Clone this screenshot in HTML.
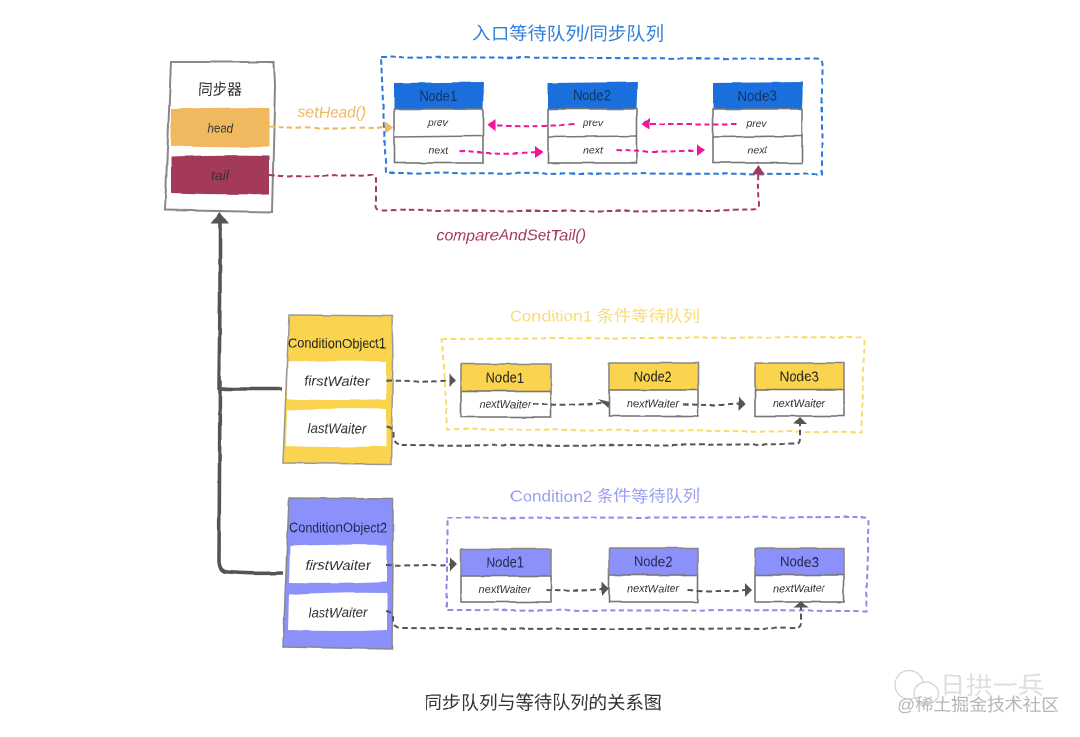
<!DOCTYPE html>
<html><head><meta charset="utf-8"><style>
html,body{margin:0;padding:0;background:#fff}
svg{display:block}
text{font-family:"Liberation Sans","WenQuanYi Zen Hei","Noto Sans CJK SC",sans-serif;text-anchor:middle;dominant-baseline:central;fill:#333}
.t{font-style:italic}
.b{fill:none;stroke:#777;stroke-width:1.6}
.d{fill:none;stroke-width:2;stroke-dasharray:5.500 3.500}
</style></head><body>
<svg width="1080" height="737" viewBox="0 0 1080 737" xmlns="http://www.w3.org/2000/svg">
<defs>
<filter id="sk" filterUnits="userSpaceOnUse" x="0" y="0" width="1080" height="737" color-interpolation-filters="sRGB">
<feTurbulence type="fractalNoise" baseFrequency="0.035" numOctaves="2" seed="4" result="n"/>
<feDisplacementMap in="SourceGraphic" in2="n" scale="2.500" xChannelSelector="R" yChannelSelector="G" result="w"/>
<feGaussianBlur in="w" stdDeviation="0.350"/>
</filter>
</defs>
<rect width="1080" height="737" fill="#fff"/>
<g filter="url(#sk)">

<!-- Synchronizer -->
<path d="M171 62L274 62L275 85L272 212L165 210Z" fill="#fff" stroke="#888" stroke-width="2"/>
<text x="220" y="90" font-size="15" textLength="43" lengthAdjust="spacingAndGlyphs">同步器</text>
<path d="M171 109Q220 107 269 108L269 147Q220 148 171 146Z" fill="#F0B95F"/>
<path d="M171 157Q220 155 269 156L269 194Q220 195 171 193Z" fill="#A33A58"/>
<text x="220" y="128" font-size="13" class="t" textLength="26" lengthAdjust="spacingAndGlyphs">head</text>
<text x="220" y="175" font-size="13" class="t" textLength="18" lengthAdjust="spacingAndGlyphs">tail</text>

<!-- Entry queue -->
<text x="568" y="34" font-size="18" style="fill:#2F7FD8" textLength="192" lengthAdjust="spacingAndGlyphs">入口等待队列/同步队列</text>
<path class="d" stroke="#2A78D8" d="M381 57L816 59Q822 59 822 65L822 174L386 173Z"/>

<path d="M394 83L484 82L483 109L394 109Z" fill="#1A6FDC"/>
<rect class="b" x="394" y="109" width="89" height="54" fill="#fff"/><path class="b" d="M394 137L483 136"/>
<text x="438" y="96" font-size="15" style="fill:#13345f" textLength="38" lengthAdjust="spacingAndGlyphs">Node1</text>
<text x="438" y="124" font-size="10" class="t" textLength="20" lengthAdjust="spacingAndGlyphs">prev</text>
<text x="438" y="151" font-size="10" class="t" textLength="20" lengthAdjust="spacingAndGlyphs">next</text>

<path d="M548 83L638 82L637 109L548 109Z" fill="#1A6FDC"/>
<rect class="b" x="548" y="109" width="89" height="54" fill="#fff"/><path class="b" d="M548 137L637 136"/>
<text x="592" y="96" font-size="15" style="fill:#13345f" textLength="38" lengthAdjust="spacingAndGlyphs">Node2</text>
<text x="593" y="124" font-size="10" class="t" textLength="20" lengthAdjust="spacingAndGlyphs">prev</text>
<text x="593" y="151" font-size="10" class="t" textLength="20" lengthAdjust="spacingAndGlyphs">next</text>

<path d="M713 83L803 82L802 109L713 109Z" fill="#1A6FDC"/>
<rect class="b" x="713" y="109" width="89" height="54" fill="#fff"/><path class="b" d="M713 137L802 136"/>
<text x="757" y="96" font-size="15" style="fill:#13345f" textLength="39" lengthAdjust="spacingAndGlyphs">Node3</text>
<text x="757" y="124" font-size="10" class="t" textLength="20" lengthAdjust="spacingAndGlyphs">prev</text>
<text x="757" y="151" font-size="10" class="t" textLength="20" lengthAdjust="spacingAndGlyphs">next</text>

<!-- Entry arrows -->
<path class="d" stroke="#F0B95F" d="M269 127Q330 129 386 127"/>
<path d="M385 121L393 127.500L385 134Z" fill="#F0B95F"/>
<text x="332" y="113" font-size="16" class="t" style="fill:#F0B95F" textLength="68" lengthAdjust="spacingAndGlyphs">setHead()</text>

<g stroke="#F0159A">
<path class="d" d="M574 124Q530 128 492 125"/>
<path class="d" d="M737 124Q690 124 648 124"/>
<path class="d" d="M459 151Q500 155 536 152"/>
<path class="d" d="M616 150Q660 153 698 150"/>
</g>
<g fill="#F0159A">
<path d="M487 125L495 119L495 131Z"/>
<path d="M642 124L650 118L650 130Z"/>
<path d="M543 152L535 146L535 158Z"/>
<path d="M705 150L697 144L697 156Z"/>
</g>

<path class="d" stroke="#A33A58" d="M269 175Q300 178 320 176L372 175Q376 175 376 180L376 205Q376 210 382 210Q570 212 752 210Q759 210 759 204L758 172"/>
<path d="M758 165L765 174L752 174Z" fill="#A33A58"/>
<text x="511" y="236" font-size="16" class="t" style="fill:#A33A58" textLength="149" lengthAdjust="spacingAndGlyphs">compareAndSetTail()</text>

<!-- Inheritance lines -->
<path d="M220 218L220 300L219 388Q222 389 235 389L282 389M220 380L219 560Q219 572 228 572Q250 574 283 573" fill="none" stroke="#555" stroke-width="3.600"/>
<path d="M220 212L229 223L211 223Z" fill="#555"/>

<!-- Condition 1 -->
<path d="M289 315L392 316L393 360L391 464L283 463Z" fill="#FBD44F" stroke="#999" stroke-width="1.500"/>
<path d="M288 362Q340 360 386 361L386 399Q340 401 287 399Z" fill="#fff"/>
<path d="M287 410Q340 408 386 409L386 446Q340 448 286 446Z" fill="#fff"/>
<text x="337" y="343" font-size="14" style="fill:#222" textLength="98" lengthAdjust="spacingAndGlyphs">ConditionObject1</text>
<text x="337" y="381" font-size="14" class="t" textLength="66" lengthAdjust="spacingAndGlyphs">firstWaiter</text>
<text x="337" y="428" font-size="14" class="t" textLength="59" lengthAdjust="spacingAndGlyphs">lastWaiter</text>

<text x="605" y="317" font-size="16" style="fill:#F8DC78" textLength="190" lengthAdjust="spacingAndGlyphs">Condition1 条件等待队列</text>
<path class="d" stroke="#F8DC6A" d="M442 339L860 337Q864 337 864 342L862 432L447 429Z"/>

<path d="M461 364L551 364L551 391L461 391Z" fill="#FBD44F"/>
<rect class="b" x="461" y="391" width="90" height="26" fill="#fff"/>
<path class="b" d="M461 364L551 364L551 391M461 364L461 391" style="stroke:#888"/>
<text x="505" y="378" font-size="15" style="fill:#222" textLength="38" lengthAdjust="spacingAndGlyphs">Node1</text>
<text x="505" y="405" font-size="11" class="t" textLength="52" lengthAdjust="spacingAndGlyphs">nextWaiter</text>
<path d="M609 363L698 363L698 390L609 390Z" fill="#FBD44F"/>
<rect class="b" x="609" y="390" width="89" height="26" fill="#fff"/>
<path class="b" d="M609 363L698 363L698 390M609 363L609 390" style="stroke:#888"/>
<text x="653" y="377" font-size="15" style="fill:#222" textLength="38" lengthAdjust="spacingAndGlyphs">Node2</text>
<text x="653" y="404" font-size="11" class="t" textLength="52" lengthAdjust="spacingAndGlyphs">nextWaiter</text>
<path d="M755 363L844 363L844 390L755 390Z" fill="#FBD44F"/>
<rect class="b" x="755" y="390" width="89" height="26" fill="#fff"/>
<path class="b" d="M755 363L844 363L844 390M755 363L755 390" style="stroke:#888"/>
<text x="799" y="377" font-size="15" style="fill:#222" textLength="39" lengthAdjust="spacingAndGlyphs">Node3</text>
<text x="799" y="404" font-size="11" class="t" textLength="52" lengthAdjust="spacingAndGlyphs">nextWaiter</text>

<g stroke="#555">
<path class="d" d="M386 381Q420 382 449 380"/>
<path class="d" d="M533 404Q570 406 602 403"/>
<path class="d" d="M683 404Q715 406 739 404"/>
<path class="d" d="M386 427Q394 428 393 436Q393 444 402 445Q600 446 796 444Q800 444 800 438L800 424"/>
</g>
<g fill="#555">
<path d="M456 380L449 373L449 387Z"/>
<path d="M609 402L598 399L608 408Z"/>
<path d="M746 404L739 397L739 411Z"/>
<path d="M800 417L807 424L793 424Z"/>
</g>

<!-- Condition 2 -->
<path d="M289 498L393 499L393 560L392 649L283 647Z" fill="#8C90FA" stroke="#888" stroke-width="1.500"/>
<path d="M290 546Q340 544 387 545L387 582Q340 584 289 583Z" fill="#fff"/>
<path d="M289 595Q340 592 387 593L387 630Q340 632 288 630Z" fill="#fff"/>
<text x="338" y="527" font-size="14" style="fill:#222a55" textLength="98" lengthAdjust="spacingAndGlyphs">ConditionObject2</text>
<text x="338" y="565" font-size="14" class="t" textLength="66" lengthAdjust="spacingAndGlyphs">firstWaiter</text>
<text x="338" y="612" font-size="14" class="t" textLength="59" lengthAdjust="spacingAndGlyphs">lastWaiter</text>

<text x="605" y="497" font-size="16" style="fill:#9A9DF2" textLength="190" lengthAdjust="spacingAndGlyphs">Condition2 条件等待队列</text>
<path class="d" stroke="#8C8CEB" d="M447 518L865 517Q869 517 869 522L866 611L447 610Z"/>

<path d="M461 549L551 549L551 576L461 576Z" fill="#8C90FA"/>
<rect class="b" x="461" y="576" width="90" height="26" fill="#fff"/>
<path class="b" d="M461 549L551 549L551 576M461 549L461 576" style="stroke:#888"/>
<text x="505" y="563" font-size="15" style="fill:#222a55" textLength="38" lengthAdjust="spacingAndGlyphs">Node1</text>
<text x="505" y="590" font-size="11" class="t" textLength="52" lengthAdjust="spacingAndGlyphs">nextWaiter</text>
<path d="M609 548L698 548L698 575L609 575Z" fill="#8C90FA"/>
<rect class="b" x="609" y="575" width="89" height="27" fill="#fff"/>
<path class="b" d="M609 548L698 548L698 575M609 548L609 575" style="stroke:#888"/>
<text x="653" y="562" font-size="15" style="fill:#222a55" textLength="38" lengthAdjust="spacingAndGlyphs">Node2</text>
<text x="653" y="589" font-size="11" class="t" textLength="52" lengthAdjust="spacingAndGlyphs">nextWaiter</text>
<path d="M755 548L844 548L844 575L755 575Z" fill="#8C90FA"/>
<rect class="b" x="755" y="575" width="89" height="27" fill="#fff"/>
<path class="b" d="M755 548L844 548L844 575M755 548L755 575" style="stroke:#888"/>
<text x="799" y="562" font-size="15" style="fill:#222a55" textLength="39" lengthAdjust="spacingAndGlyphs">Node3</text>
<text x="799" y="589" font-size="11" class="t" textLength="52" lengthAdjust="spacingAndGlyphs">nextWaiter</text>

<g stroke="#555">
<path class="d" d="M386 565Q420 566 450 564"/>
<path class="d" d="M546 590Q575 592 602 589"/>
<path class="d" d="M688 590Q720 592 745 590"/>
<path class="d" d="M386 611Q394 612 393 620Q393 628 402 628Q600 630 796 628Q801 628 801 622L801 608"/>
</g>
<g fill="#555">
<path d="M457 564L450 557L450 571Z"/>
<path d="M609 589L602 582L602 596Z"/>
<path d="M752 590L745 583L745 597Z"/>
<path d="M801 601L808 608L794 608Z"/>
</g>

<!-- Caption -->
<text x="543" y="703" font-size="18" style="fill:#333" textLength="238" lengthAdjust="spacingAndGlyphs">同步队列与等待队列的关系图</text>

<!-- Watermark -->
<g fill="none" stroke="#d2d2d2" stroke-width="1.200">
<ellipse cx="909" cy="685" rx="14" ry="14"/>
<ellipse cx="926" cy="693" rx="12" ry="11" fill="#fff"/>
</g>
<text x="992" y="686" font-size="24" style="fill:#dedede" textLength="104" lengthAdjust="spacingAndGlyphs">日拱一兵</text>
<text x="978" y="705" font-size="17" style="fill:#b5b5b5" textLength="162" lengthAdjust="spacingAndGlyphs">@稀土掘金技术社区</text>
</g>
</svg>
</body></html>
